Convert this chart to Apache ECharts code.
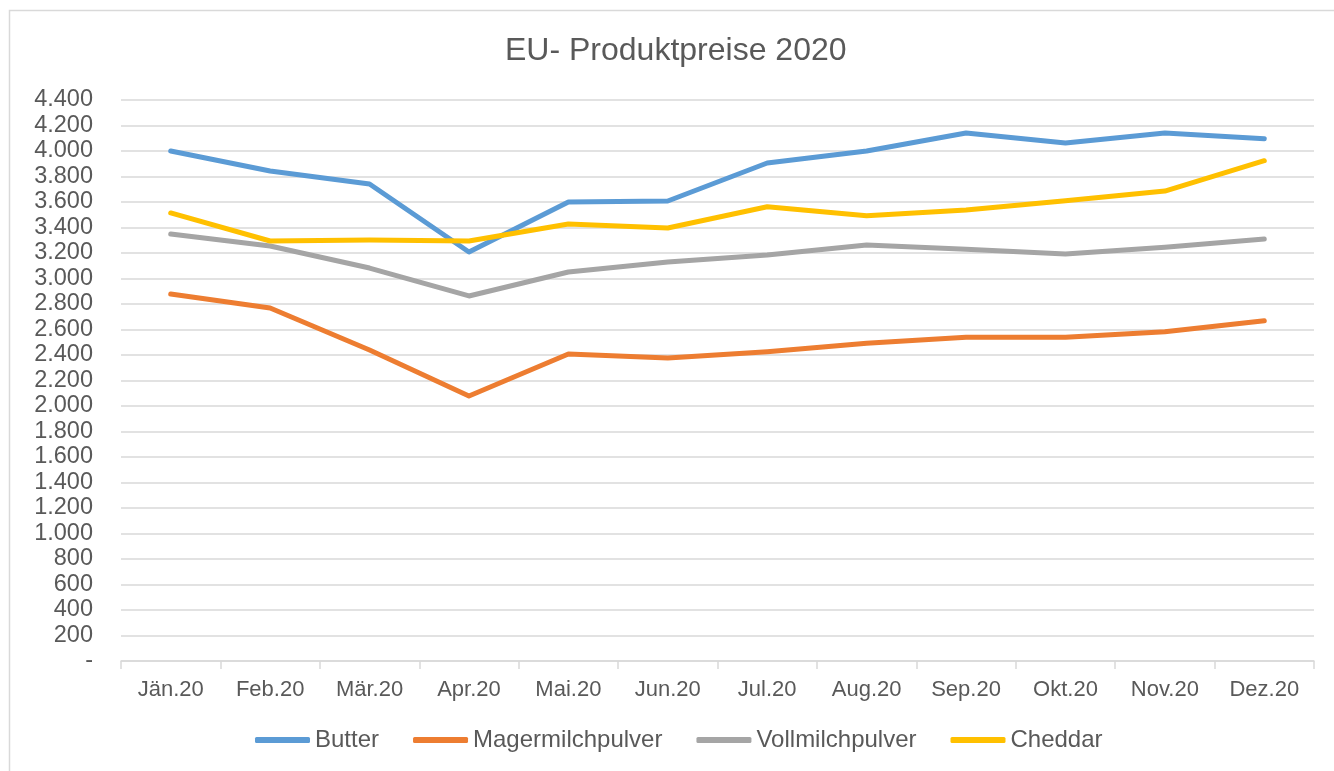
<!DOCTYPE html>
<html>
<head>
<meta charset="utf-8">
<script src="https://cdn.jsdelivr.net/npm/echarts@6/dist/echarts.min.js"></script>
<style>
html,body{margin:0;padding:0;background:#fff;}
#chart{width:1334px;height:771px;}
</style>
</head>
<body>
<div id="chart"></div>
<script>
const categories = ['Jän.20','Feb.20','Mär.20','Apr.20','Mai.20','Jun.20','Jul.20','Aug.20','Sep.20','Okt.20','Nov.20','Dez.20'];
const butter = [4000, 3843, 3741, 3208, 3600, 3608, 3906, 4000, 4141, 4063, 4141, 4096];
const magermilchpulver = [2878, 2769, 2439, 2078, 2408, 2376, 2426, 2492, 2539, 2539, 2583, 2669];
const vollmilchpulver = [3349, 3255, 3082, 2863, 3051, 3129, 3184, 3263, 3229, 3192, 3245, 3310];
const cheddar = [3514, 3294, 3302, 3294, 3427, 3396, 3563, 3493, 3537, 3610, 3686, 3924];
const seriesNames = ['Butter','Magermilchpulver','Vollmilchpulver','Cheddar'];
const seriesColors = ['#5B9BD5','#ED7D31','#A5A5A5','#FFC000'];
const seriesData = [butter, magermilchpulver, vollmilchpulver, cheddar];

const font = "'Liberation Sans', Arial, sans-serif";
const textColor = '#595959';

function fmt(v){
  if (v === 0) return '-';
  return String(v).replace(/\B(?=(\d{3})+(?!\d))/g, '.');
}

const chart = echarts.init(document.getElementById('chart'), null, {renderer:'canvas'});
chart.setOption({
  animation: false,
  backgroundColor: '#fff',
  textStyle: {fontFamily: font},
  graphic: [{
    type: 'rect',
    shape: {x: 9.5, y: 10.5, width: 1400, height: 900},
    style: {fill: 'none', stroke: '#d9d9d9', lineWidth: 1.5},
    silent: true
  }],
  title: {
    text: 'EU- Produktpreise 2020',
    left: 500,
    top: 30,
    textStyle: {fontFamily: font, fontSize: 32, fontWeight: 'normal', color: textColor}
  },
  legend: {
    data: seriesNames,
    bottom: 14,
    left: 250,
    itemWidth: 55,
    itemHeight: 6,
    itemGap: 34,
    icon: 'roundRect',
    textStyle: {fontFamily: font, fontSize: 24, color: textColor}
  },
  grid: {left: 121, right: 20, top: 100, bottom: 110, containLabel: false},
  xAxis: {
    type: 'category',
    data: categories,
    boundaryGap: true,
    axisLine: {show: true, lineStyle: {color: '#d9d9d9', width: 1.5}},
    axisTick: {show: true, length: 8, lineStyle: {color: '#d9d9d9', width: 1.5}},
    axisLabel: {fontFamily: font, fontSize: 22, color: textColor, margin: 18},
    splitLine: {show: false}
  },
  yAxis: {
    type: 'value',
    min: 0,
    max: 4400,
    interval: 200,
    axisLine: {show: false},
    axisTick: {show: false},
    axisLabel: {fontFamily: font, fontSize: 23.5, color: textColor, margin: 28, formatter: fmt},
    splitLine: {show: true, lineStyle: {color: '#d9d9d9', width: 1.5}}
  },
  series: seriesNames.map((n, i) => ({
    name: n,
    type: 'line',
    data: seriesData[i],
    showSymbol: false,
    symbol: 'none',
    smooth: false,
    color: seriesColors[i],
    lineStyle: {color: seriesColors[i], width: 5, cap: 'round', join: 'round'}
  }))
});
</script>
</body>
</html>
